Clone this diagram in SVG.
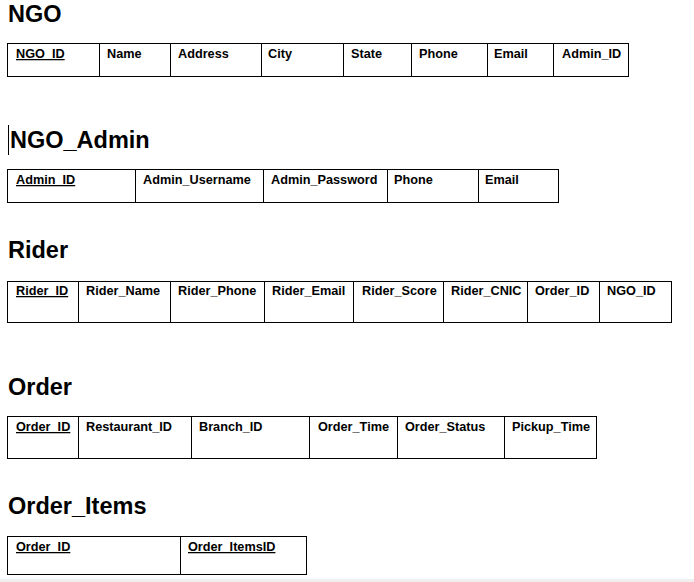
<svg xmlns="http://www.w3.org/2000/svg" width="694" height="582" viewBox="0 0 694 582">
<style>
.h{font-family:"Liberation Sans",Arial,sans-serif;font-weight:bold;font-size:23.5px;fill:#000}
.t{font-family:"Liberation Sans",Arial,sans-serif;font-weight:bold;font-size:12.7px;fill:#000}
.pk{text-decoration:underline}
.b{fill:#fff;stroke:#000;stroke-width:1}
.d{stroke:#000;stroke-width:1}
</style>
<rect x="0" y="0" width="694" height="582" fill="#fff"/>
<rect x="0" y="579" width="694" height="3" fill="#efefef"/>

<g id="NGO">
<text class="h" x="8" y="22">NGO</text>
<rect class="b" x="7.5" y="43.5" width="621" height="33"/>
<path class="d" d="M99.5 43.5V76.5M170.5 43.5V76.5M261.5 43.5V76.5M343.5 43.5V76.5M411.5 43.5V76.5M487.5 43.5V76.5M553.5 43.5V76.5"/>
<text class="t pk" x="16" y="58">NGO_ID</text>
<text class="t" x="107" y="58">Name</text>
<text class="t" x="178" y="58">Address</text>
<text class="t" x="268" y="58">City</text>
<text class="t" x="351" y="58">State</text>
<text class="t" x="419" y="58">Phone</text>
<text class="t" x="494" y="58">Email</text>
<text class="t" x="562" y="58">Admin_ID</text>
</g>

<g id="NGO_Admin">
<line class="d" x1="8.5" y1="125" x2="8.5" y2="155"/>
<text class="h" x="10" y="148">NGO_Admin</text>
<rect class="b" x="7.5" y="169.5" width="551" height="33"/>
<path class="d" d="M135.5 169.5V202.5M263.5 169.5V202.5M387.5 169.5V202.5M478.5 169.5V202.5"/>
<text class="t pk" x="16" y="184">Admin_ID</text>
<text class="t" x="143" y="184">Admin_Username</text>
<text class="t" x="271" y="184">Admin_Password</text>
<text class="t" x="394" y="184">Phone</text>
<text class="t" x="485" y="184">Email</text>
</g>

<g id="Rider">
<text class="h" x="8" y="258">Rider</text>
<rect class="b" x="7.5" y="281.5" width="664" height="41"/>
<path class="d" d="M78.5 281.5V322.5M170.5 281.5V322.5M264.5 281.5V322.5M353.5 281.5V322.5M443.5 281.5V322.5M527.5 281.5V322.5M599.5 281.5V322.5"/>
<text class="t pk" x="16" y="295">Rider_ID</text>
<text class="t" x="86" y="295">Rider_Name</text>
<text class="t" x="178" y="295">Rider_Phone</text>
<text class="t" x="272" y="295">Rider_Email</text>
<text class="t" x="362" y="295">Rider_Score</text>
<text class="t" x="451" y="295">Rider_CNIC</text>
<text class="t" x="535" y="295">Order_ID</text>
<text class="t" x="607" y="295">NGO_ID</text>
</g>

<g id="Order">
<text class="h" x="8" y="395">Order</text>
<rect class="b" x="7.5" y="416.5" width="589" height="42"/>
<path class="d" d="M78.5 416.5V458.5M191.5 416.5V458.5M309.5 416.5V458.5M397.5 416.5V458.5M504.5 416.5V458.5"/>
<text class="t pk" x="16" y="431">Order_ID</text>
<text class="t" x="86" y="431">Restaurant_ID</text>
<text class="t" x="199" y="431">Branch_ID</text>
<text class="t" x="318" y="431">Order_Time</text>
<text class="t" x="405" y="431">Order_Status</text>
<text class="t" x="512" y="431">Pickup_Time</text>
</g>

<g id="Order_Items">
<text class="h" x="8" y="514">Order_Items</text>
<rect class="b" x="7.5" y="536.5" width="299" height="38"/>
<path class="d" d="M180.5 536.5V574.5"/>
<text class="t pk" x="16" y="551">Order_ID</text>
<text class="t pk" x="188" y="551">Order_ItemsID</text>
</g>

<g id="connectors"></g>
</svg>
